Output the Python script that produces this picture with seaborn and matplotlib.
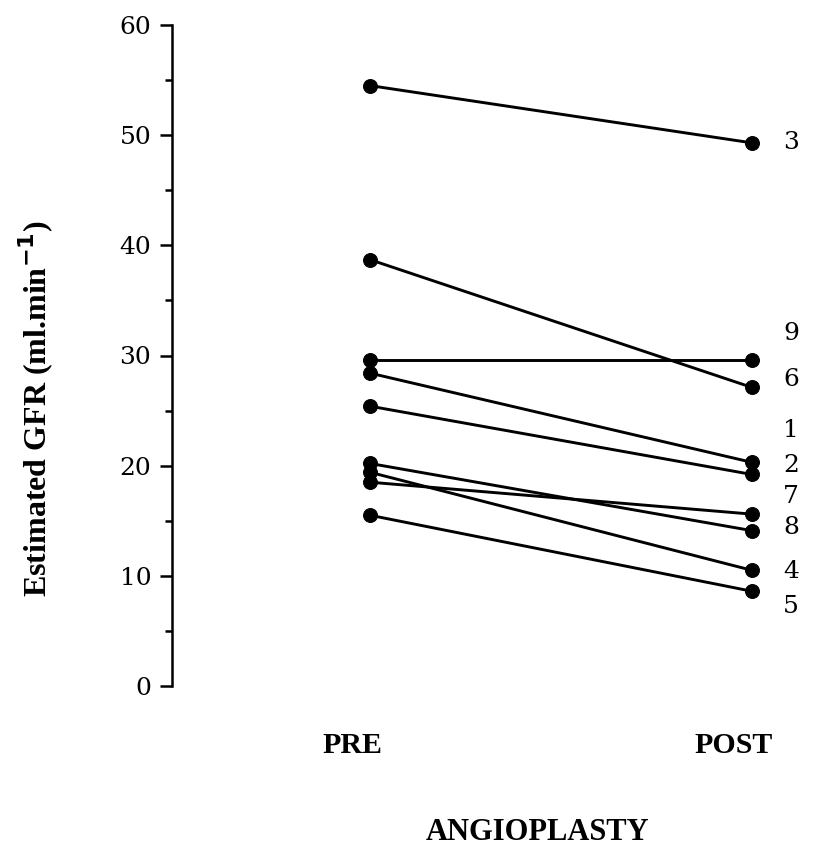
import pandas as pd
import numpy as np
import matplotlib
matplotlib.use('Agg')
import matplotlib.pyplot as plt
import matplotlib.transforms as mtransforms
from matplotlib.ticker import MultipleLocator
import seaborn as sns

sns.set_style("white")
plt.rcParams['font.family'] = ['Liberation Serif', 'DejaVu Serif']
plt.rcParams['text.color'] = 'black'
plt.rcParams['axes.labelcolor'] = 'black'
plt.rcParams['xtick.color'] = 'black'
plt.rcParams['ytick.color'] = 'black'

# Данные: пациенты, GFR до и после ангиопластики
patients = [3, 9, 6, 1, 2, 7, 8, 4, 5]
gfr_pre = [54.5, 29.6, 38.7, 28.4, 25.4, 18.5, 20.2, 19.4, 15.5]
gfr_post = [49.3, 29.6, 27.1, 20.3, 19.2, 15.6, 14.1, 10.5, 8.6]
# высота подписей номеров пациентов справа (в единицах оси)
label_y = [49.3, 32.0, 27.8, 23.2, 20.0, 17.2, 14.4, 10.4, 7.2]
phases = ['PRE', 'POST']

df = pd.DataFrame({
    'patient': patients * 2,
    'phase': [0] * len(patients) + [1] * len(patients),
    'gfr': gfr_pre + gfr_post,
})

num_font = 'DejaVu Serif'

fig = plt.figure(figsize=(8.37, 8.51), dpi=100)
ax = fig.add_axes([172 / 837, 1 - 686 / 851, (800 - 172) / 837, (686 - 25) / 851])

sns.lineplot(data=df, x='phase', y='gfr', units='patient', estimator=None,
             color='black', linewidth=2.1, marker='o', markersize=10,
             markeredgecolor='black', markerfacecolor='black', ax=ax,
             legend=False)

ax.set_ylim(0, 60)
ax.set_xlim(-198 / 382, 1 + 48 / 382)
ax.yaxis.set_major_locator(MultipleLocator(10))
ax.yaxis.set_minor_locator(MultipleLocator(5))
ax.tick_params(axis='y', which='major', length=9, width=1.8, direction='out',
               pad=6, left=True)
ax.tick_params(axis='y', which='minor', length=5, width=1.8, direction='out', left=True)
for t in ax.get_yticklabels():
    t.set_fontfamily(num_font)
    t.set_fontsize(18)
ax.set_xticks([0, 1])
ax.set_xticklabels(phases, fontsize=21.5, fontweight='bold')
ax.tick_params(axis='x', length=0, pad=33)
# подписи PRE/POST слегка сдвинуты влево, как в оригинале
for t in ax.get_xticklabels():
    t.set_transform(t.get_transform() +
                    mtransforms.ScaledTranslation(-0.18, 0, fig.dpi_scale_trans))

for s in ['top', 'right', 'bottom']:
    ax.spines[s].set_visible(False)
ax.spines['left'].set_linewidth(1.8)
ax.spines['left'].set_color('black')

ax.set_ylabel('Estimated GFR (ml.min$^{\\mathbf{-1}}$)', fontsize=23, fontweight='bold')
ax.yaxis.set_label_coords(-0.185, 0.42)
ax.set_xlabel('ANGIOPLASTY', fontsize=22, fontweight='bold')
ax.xaxis.set_label_coords((538 - 172) / 628, -0.2)

for p, yv in zip(patients, label_y):
    ax.annotate(str(p), xy=(1, yv), xytext=(28, 0), textcoords='offset points',
                ha='center', va='center', fontsize=18, family=num_font,
                annotation_clip=False)

fig.savefig('out.png', dpi=100)
